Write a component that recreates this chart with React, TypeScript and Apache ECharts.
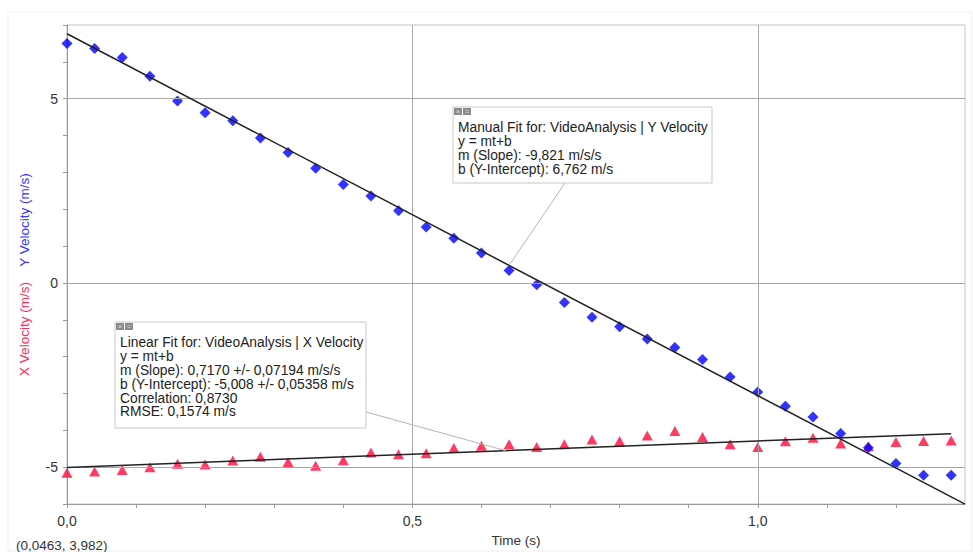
import React, { useEffect, useRef } from 'react';
import * as echarts from 'echarts';

const times = [0, 0.04, 0.08, 0.12, 0.16, 0.2, 0.24, 0.28, 0.32, 0.36, 0.4, 0.44, 0.48, 0.52, 0.56, 0.6, 0.64, 0.68, 0.72, 0.76, 0.8, 0.84, 0.88, 0.92, 0.96, 1.0, 1.04, 1.08, 1.12, 1.16, 1.2, 1.24, 1.28];
const yVelocity = [6.50, 6.36, 6.12, 5.61, 4.94, 4.62, 4.40, 3.93, 3.54, 3.11, 2.67, 2.36, 1.96, 1.52, 1.21, 0.81, 0.34, -0.05, -0.53, -0.93, -1.19, -1.52, -1.75, -2.08, -2.55, -2.96, -3.35, -3.64, -4.09, -4.47, -4.90, -5.22, -5.22];
const xVelocity = [-5.15, -5.12, -5.08, -5.00, -4.91, -4.93, -4.82, -4.72, -4.86, -4.96, -4.81, -4.60, -4.65, -4.62, -4.48, -4.42, -4.38, -4.45, -4.38, -4.25, -4.29, -4.14, -4.02, -4.18, -4.38, -4.45, -4.30, -4.20, -4.36, -4.43, -4.32, -4.29, -4.28];

const manualSlope = -9.821;
const manualIntercept = 6.762;
const manualEnd = 1.3;
const linearSlope = 0.717;
const linearIntercept = -5.008;
const linearEnd = 1.28;

const xGridValues = [0.5, 1.0];
const yGridValues = [5, 0, -5];

const manualLines = [
  'Manual Fit for: VideoAnalysis | Y Velocity',
  'y = mt+b',
  'm (Slope): -9,821 m/s/s',
  'b (Y-Intercept): 6,762 m/s',
];
const linearLines = [
  'Linear Fit for: VideoAnalysis | X Velocity',
  'y = mt+b',
  'm (Slope): 0,7170 +/- 0,07194 m/s/s',
  'b (Y-Intercept): -5,008 +/- 0,05358 m/s',
  'Correlation: 0,8730',
  'RMSE: 0,1574 m/s',
];

const FONT = '"Liberation Sans", Arial, sans-serif';

function fmt(v: number) {
  return v.toFixed(1).replace('.', ',');
}

function boxGraphics(x: number, y: number, w: number, h: number, lines: string[]) {
  return [
    { type: 'rect', shape: { x, y, width: w, height: h }, style: { fill: '#fff', stroke: '#c8c8c8', lineWidth: 1 }, z: 100 },
    { type: 'rect', shape: { x: x + 1, y: y + 1, width: 8, height: 7 }, style: { fill: '#8a8a8a' }, z: 101 },
    { type: 'rect', shape: { x: x + 10, y: y + 1, width: 8, height: 7 }, style: { fill: '#8a8a8a' }, z: 101 },
    { type: 'text', x: x + 5, y: y + 4.5, style: { text: '×', fill: '#ddd', fontSize: 8, fontFamily: FONT, align: 'center', verticalAlign: 'middle' }, z: 102 },
    { type: 'text', x: x + 14, y: y + 4.5, style: { text: '=', fill: '#ddd', fontSize: 8, fontFamily: FONT, align: 'center', verticalAlign: 'middle' }, z: 102 },
    {
      type: 'text', x: x + 5, y: y + 14,
      style: { text: lines.join('\n'), fill: '#222', fontSize: 13.8, lineHeight: 13.8, fontFamily: FONT, verticalAlign: 'top', align: 'left' },
      z: 101,
    },
  ];
}

export default function App() {
  const ref = useRef<HTMLDivElement>(null);
  useEffect(() => {
    if (!ref.current) return;
    const chart = echarts.init(ref.current, null, { renderer: 'svg' });
    const ySeries = times.map((t, i) => [t, yVelocity[i]]);
    const xSeries = times.map((t, i) => [t, xVelocity[i]]);
    const manualFit = [[0, manualIntercept], [manualEnd, manualIntercept + manualSlope * manualEnd]];
    const linearFit = [[0, linearIntercept], [linearEnd, linearIntercept + linearSlope * linearEnd]];
    chart.setOption({
      animation: false,
      backgroundColor: '#fff',
      textStyle: { fontFamily: FONT },
      grid: { left: 67, top: 25, right: 8, bottom: 44, show: true, borderColor: '#c4c4c4', borderWidth: 1 },
      xAxis: {
        type: 'value', min: 0, max: 1.3, interval: 0.1,
        name: 'Time (s)', nameLocation: 'middle', nameGap: 29,
        nameTextStyle: { color: '#333', fontSize: 13.5, fontFamily: FONT },
        axisLine: { show: true, onZero: false, lineStyle: { color: '#999' } },
        axisTick: { show: true, length: 4, lineStyle: { color: '#999' } },
        splitLine: { show: false },
        axisLabel: {
          color: '#333', fontSize: 14, fontFamily: FONT, margin: 10,
          formatter: (v: number) => (Math.abs(v * 2 - Math.round(v * 2)) < 1e-6 && v < 1.25 ? fmt(v) : ''),
          showMaxLabel: false,
        },
      },
      yAxis: {
        type: 'value', min: -6, max: 7, interval: 1,
        axisLine: { show: true, onZero: false, lineStyle: { color: '#999' } },
        axisTick: { show: true, length: 4, lineStyle: { color: '#999' } },
        splitLine: { show: false },
        axisLabel: {
          color: '#333', fontSize: 14, fontFamily: FONT, margin: 9,
          formatter: (v: number) => (Math.round(v) % 5 === 0 ? String(Math.round(v)) : ''),
        },
      },
      series: [
        {
          type: 'line', data: [[0, 0]], showSymbol: false, lineStyle: { opacity: 0 }, silent: true, z: 0,
          markLine: {
            silent: true, symbol: 'none', label: { show: false },
            lineStyle: { color: '#a8a8a8', type: 'solid', width: 1 },
            data: [...xGridValues.map((v) => ({ xAxis: v })), ...yGridValues.map((v) => ({ yAxis: v }))],
          },
        },
        {
          name: 'X Velocity', type: 'scatter', data: xSeries, symbol: 'triangle', symbolSize: [11, 10],
          itemStyle: { color: '#ff0a3c' }, z: 3,
        },
        {
          name: 'Y Velocity', type: 'scatter', data: ySeries, symbol: 'diamond', symbolSize: 11,
          itemStyle: { color: '#0000ff' }, z: 4,
        },
        {
          type: 'line', data: manualFit, showSymbol: false, lineStyle: { color: '#222', width: 1.5 }, z: 5,
        },
        {
          type: 'line', data: linearFit, showSymbol: false, lineStyle: { color: '#222', width: 1.5 }, z: 5,
        },
      ],
    });

    const mAnchor = chart.convertToPixel({ gridIndex: 0 }, [0.64, manualIntercept + manualSlope * 0.64]) as number[];
    const lAnchor = chart.convertToPixel({ gridIndex: 0 }, [0.635, linearIntercept + linearSlope * 0.635]) as number[];

    chart.setOption({
      graphic: [
        { type: 'rect', shape: { x: 8, y: 12, width: 964, height: 539 }, style: { fill: 'none', stroke: '#efefef', lineWidth: 1 }, z: 0, silent: true },
        { type: 'line', shape: { x1: 565, y1: 183, x2: mAnchor[0], y2: mAnchor[1] }, style: { stroke: '#b5b5b5', lineWidth: 1 }, z: 99 },
        { type: 'line', shape: { x1: 366, y1: 412, x2: lAnchor[0], y2: lAnchor[1] }, style: { stroke: '#b5b5b5', lineWidth: 1 }, z: 99 },
        ...boxGraphics(453, 107, 259, 76, manualLines),
        ...boxGraphics(115, 322, 251, 106, linearLines),
        {
          type: 'text', x: 24, y: 220, rotation: Math.PI / 2,
          style: { text: 'Y Velocity (m/s)', fill: '#3535ff', fontSize: 13.5, fontFamily: FONT, align: 'center', verticalAlign: 'middle' },
        },
        {
          type: 'text', x: 24, y: 329, rotation: Math.PI / 2,
          style: { text: 'X Velocity (m/s)', fill: '#ff2d5a', fontSize: 13.5, fontFamily: FONT, align: 'center', verticalAlign: 'middle' },
        },
        {
          type: 'text', x: 16, y: 545,
          style: { text: '(0,0463, 3,982)', fill: '#333', fontSize: 13.5, fontFamily: FONT, align: 'left', verticalAlign: 'middle' },
        },
      ],
    });
    return () => chart.dispose();
  }, []);
  return <div ref={ref} style={{ position: 'fixed', left: 0, top: 0, width: 973, height: 552 }} />;
}
